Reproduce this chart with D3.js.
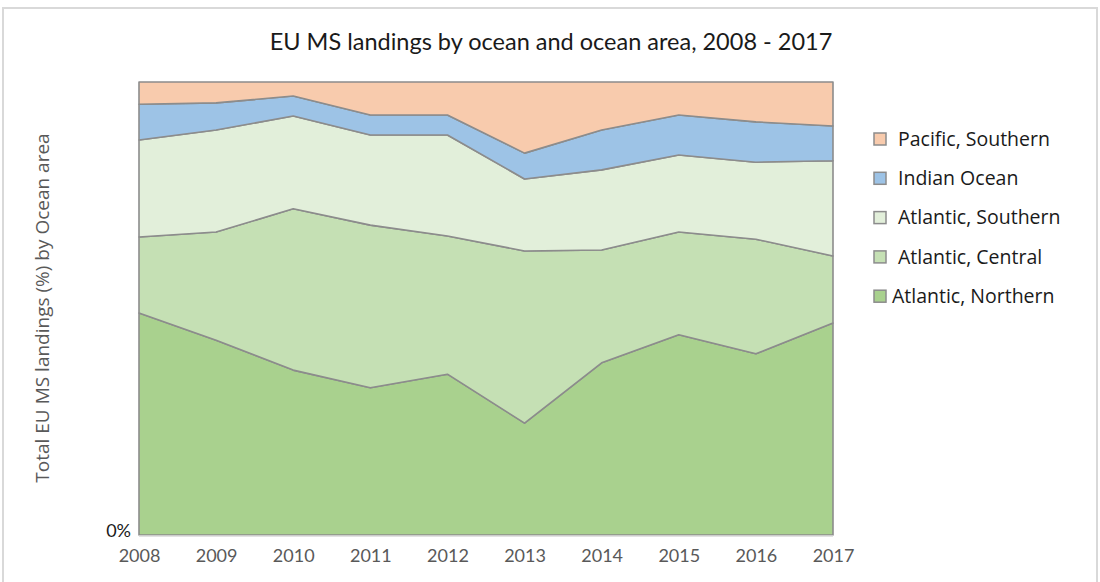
<!DOCTYPE html>
<html>
<head>
<meta charset="utf-8">
<script src="https://cdn.jsdelivr.net/npm/d3@7"></script>
<style>
  body { margin: 0; background: #fff; }
  svg { display: block; }
</style>
</head>
<body>
<div id="chart"></div>
<script>
var width = 1100,
    height = 582;

// data (share of total, %)
const years = [2008, 2009, 2010, 2011, 2012, 2013, 2014, 2015, 2016, 2017];
const seriesNames = ["Atlantic, Northern", "Atlantic, Central", "Atlantic, Southern", "Indian Ocean", "Pacific, Southern"];
const atlanticNorthern = [49.0, 43.0, 36.4, 32.5, 35.5, 24.7, 38.0, 44.2, 40.0, 46.8];
const atlanticCentral  = [16.8, 23.9, 35.6, 35.9, 30.5, 38.0, 24.9, 22.7, 25.3, 14.8];
const atlanticSouthern = [21.4, 22.5, 20.5, 19.9, 22.3, 15.9, 17.7, 17.0, 17.0, 21.0];
const indianOcean      = [7.9, 6.0, 4.4, 4.4, 4.4, 5.7, 8.8, 8.8, 8.9, 7.7];
const pacificSouthern  = [4.9, 4.6, 3.1, 7.3, 7.3, 15.7, 10.6, 7.3, 8.8, 9.7];
const yTicks = [0];

const colors = ["#a9d18e", "#c5e0b4", "#e2efda", "#9dc3e6", "#f8cbad"];

var rows = years.map(function(y, i) {
    return {
        year: y,
        "Atlantic, Northern": atlanticNorthern[i],
        "Atlantic, Central": atlanticCentral[i],
        "Atlantic, Southern": atlanticSouthern[i],
        "Indian Ocean": indianOcean[i],
        "Pacific, Southern": pacificSouthern[i]
    };
});

var stack = d3.stack().keys(seriesNames).offset(d3.stackOffsetExpand);
var layers = stack(rows);

var margin = {left: 139, right: 267, top: 82, bottom: 47};

var xScale = d3.scaleLinear().domain([2008, 2017]).range([margin.left, width - margin.right]),
    yScale = d3.scaleLinear().domain([0, 1]).range([height - margin.bottom, margin.top]);

var colorScale = d3.scaleOrdinal().domain(seriesNames).range(colors);

var narrowFont = "Lato, 'Liberation Sans Narrow', sans-serif",
    wideFont = "'Open Sans', 'DejaVu Sans', sans-serif";

var svg = d3.select("#chart")
    .append("svg")
    .attr("width", width)
    .attr("height", height);

// outer frame
svg.append("rect")
    .attr("x", 3).attr("y", 8)
    .attr("width", width - 6).attr("height", height + 10)
    .attr("fill", "none")
    .attr("stroke", "#d9d9d9")
    .attr("stroke-width", 2);

svg.append("text")
    .attr("x", 551).attr("y", 50)
    .attr("text-anchor", "middle")
    .style("font-family", narrowFont)
    .style("font-size", "23.5px")
    .style("fill", "#1a1a1a")
    .text("EU MS landings by ocean and ocean area, 2008 - 2017");

var area = d3.area()
    .x(function(d) { return xScale(d.data.year); })
    .y0(function(d) { return yScale(d[0]); })
    .y1(function(d) { return yScale(d[1]); });

svg.selectAll(".layer")
    .data(layers)
    .enter().append("path")
    .attr("class", "layer")
    .attr("d", area)
    .style("fill", function(d) { return colorScale(d.key); })
    .style("stroke", "#8c8c8c")
    .style("stroke-width", 1.6)
    .style("stroke-linejoin", "round");

// baseline
svg.append("line")
    .attr("x1", xScale(2008)).attr("x2", xScale(2017))
    .attr("y1", yScale(0) + 1).attr("y2", yScale(0) + 1)
    .attr("stroke", "#d9d9d9")
    .attr("stroke-width", 1.5);

// X-axis
var xAxis = d3.axisBottom(xScale)
    .tickValues(years)
    .tickFormat(d3.format("d"))
    .tickSize(0)
    .tickPadding(14);

var gx = svg.append("g")
    .attr("transform", "translate(0," + yScale(0) + ")")
    .call(xAxis);
gx.select(".domain").remove();
gx.selectAll("text")
    .style("font-family", narrowFont)
    .style("font-size", "18px")
    .style("fill", "#595959");

// Y-axis (only 0% is shown)
var yAxis = d3.axisLeft(yScale)
    .tickValues(yTicks)
    .tickFormat(function(d) { return d + "%"; })
    .tickSize(0)
    .tickPadding(8);

var gy = svg.append("g")
    .attr("transform", "translate(" + margin.left + ",0)")
    .call(yAxis);
gy.select(".domain").remove();
gy.selectAll("text")
    .attr("dy", "0.1em")
    .style("font-family", narrowFont)
    .style("font-size", "18px")
    .style("fill", "#1a1a1a");

svg.append("text")
    .attr("transform", "translate(49,308) rotate(-90)")
    .attr("text-anchor", "middle")
    .style("font-family", wideFont)
    .style("font-size", "19px")
    .style("fill", "#595959")
    .text("Total EU MS landings (%) by Ocean area");

// Legend (top to bottom: reverse stack order)
var legendItems = seriesNames.slice().reverse();
var legend = svg.append("g");
legendItems.forEach(function(name, i) {
    var y = 139 + i * 39.3;
    var last = i === legendItems.length - 1;
    legend.append("rect")
        .attr("x", 874).attr("y", y - 6)
        .attr("width", 12).attr("height", 12)
        .attr("fill", colorScale(name))
        .attr("stroke", "#8c8c8c")
        .attr("stroke-width", 1.5);
    legend.append("text")
        .attr("x", last ? 892 : 898).attr("y", y)
        .attr("dy", "0.35em")
        .style("font-family", wideFont)
        .style("font-size", "19.5px")
        .style("fill", "#1a1a1a")
        .text(name);
});
</script>
</body>
</html>
